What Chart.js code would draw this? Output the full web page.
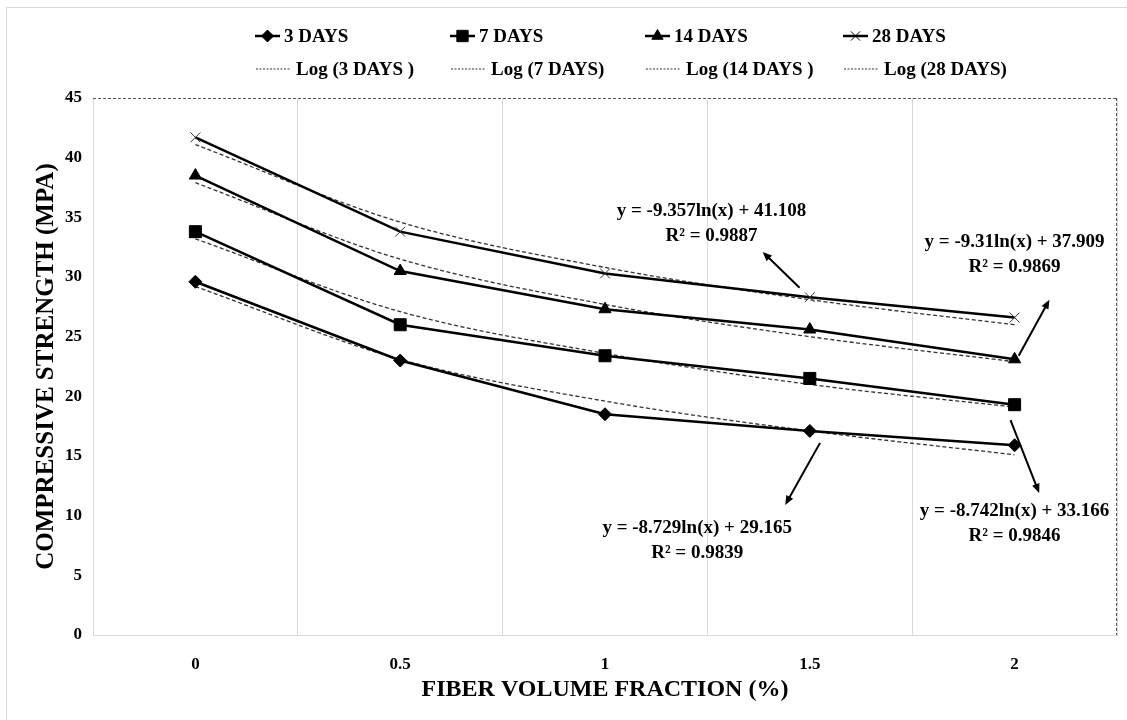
<!DOCTYPE html>
<html lang="en">
<head>
    <meta charset="UTF-8">
    <title>Compressive Strength vs Fiber Volume Fraction</title>
    <script src="https://cdn.jsdelivr.net/npm/chart.js"></script>
    <style>
        body {
            margin: 0;
            background-color: #ffffff;
        }

        .chart-box {
            width: 1127px;
            height: 720px;
            position: relative;
        }
    </style>
</head>
<body>
<div class="chart-box">
    <canvas id="strengthChart"></canvas>
</div>

<script>
    // fiber volume fraction (%)
    const fractions = ['0', '0.5', '1', '1.5', '2'];

    // measured compressive strength (MPa)
    const days3 = [29.6, 23.0, 18.5, 17.1, 15.9];
    const days7 = [33.8, 26.0, 23.4, 21.5, 19.3];
    const days14 = [38.5, 30.5, 27.3, 25.6, 23.1];
    const days28 = [41.7, 33.8, 30.3, 28.3, 26.6];

    // log trendlines
    const log3 = [29.2, 23.1, 19.6, 17.1, 15.1];
    const log7 = [33.2, 27.1, 23.6, 21.0, 19.1];
    const log14 = [37.9, 31.5, 27.7, 25.0, 22.9];
    const log28 = [41.1, 34.6, 30.8, 28.1, 26.0];

    const yTicks = [0, 5, 10, 15, 20, 25, 30, 35, 40, 45];

    const seriesNames = ['3 DAYS', '7 DAYS', '14 DAYS', '28 DAYS'];
    const trendNames = ['Log (3 DAYS )', 'Log (7 DAYS)', 'Log (14 DAYS )', 'Log (28 DAYS)'];

    const equations = [
        ['y = -9.357ln(x) + 41.108', 'R\u00B2 = 0.9887'],
        ['y = -9.31ln(x) + 37.909', 'R\u00B2 = 0.9869'],
        ['y = -8.729ln(x) + 29.165', 'R\u00B2 = 0.9839'],
        ['y = -8.742ln(x) + 33.166', 'R\u00B2 = 0.9846']
    ];

    // where each equation sits (category index, MPa) and its arrow from -> to
    const notes = [
        {at: [2.52, 35.5], from: [2.95, 29.1], to: [2.77, 32.1]},
        {at: [4.0, 32.9], from: [4.02, 23.4], to: [4.17, 28.1]},
        {at: [2.45, 9.0], from: [3.05, 16.1], to: [2.88, 10.9]},
        {at: [4.0, 10.4], from: [3.98, 18.0], to: [4.12, 11.9]}
    ];

    const serif = "'Liberation Serif', 'Times New Roman', serif";
    const markers = ['rectRot', 'rect', 'triangle', 'crossRot'];
    const markerSize = [6.5, 8.5, 7, 7];

    function dataLine(label, values, i) {
        return {
            label: label,
            data: values,
            borderColor: '#000',
            backgroundColor: '#000',
            borderWidth: 2.5,
            pointStyle: markers[i],
            pointRadius: markerSize[i],
            pointBorderWidth: 1,
            pointBackgroundColor: '#000',
            pointBorderColor: i === 3 ? '#333' : '#000',
            tension: 0,
            order: 1
        };
    }

    function trendLine(label, values) {
        return {
            label: label,
            data: values,
            borderColor: '#333',
            borderWidth: 1.3,
            borderDash: [4, 2.5],
            pointRadius: 0,
            cubicInterpolationMode: 'monotone',
            order: 2
        };
    }

    const allSeries = [days3, days7, days14, days28];
    const allTrends = [log3, log7, log14, log28];

    const datasets = [];
    allSeries.forEach((s, i) => datasets.push(dataLine(seriesNames[i], s, i)));
    allTrends.forEach((t, i) => datasets.push(trendLine(trendNames[i], t)));

    function drawArrow(ctx, x1, y1, x2, y2) {
        const ang = Math.atan2(y2 - y1, x2 - x1);
        const head = 10;
        ctx.save();
        ctx.strokeStyle = '#000';
        ctx.fillStyle = '#000';
        ctx.lineWidth = 2;
        ctx.beginPath();
        ctx.moveTo(x1, y1);
        ctx.lineTo(x2 - Math.cos(ang) * head * 0.8, y2 - Math.sin(ang) * head * 0.8);
        ctx.stroke();
        ctx.beginPath();
        ctx.moveTo(x2, y2);
        ctx.lineTo(x2 - head * Math.cos(ang - 0.4), y2 - head * Math.sin(ang - 0.4));
        ctx.lineTo(x2 - head * Math.cos(ang + 0.4), y2 - head * Math.sin(ang + 0.4));
        ctx.closePath();
        ctx.fill();
        ctx.restore();
    }

    // legend grid, dashed frame, equations and arrows
    const extras = {
        id: 'extras',
        afterDraw(chart) {
            const ctx = chart.ctx;
            const area = chart.chartArea;
            const xs = chart.scales.x;
            const ys = chart.scales.y;

            ctx.save();
            // faint outer frame
            ctx.strokeStyle = '#d9d9d9';
            ctx.lineWidth = 1;
            ctx.beginPath();
            ctx.moveTo(6.5, chart.height);
            ctx.lineTo(6.5, 7.5);
            ctx.lineTo(chart.width, 7.5);
            ctx.stroke();

            // dashed frame top and right
            ctx.strokeStyle = '#555';
            ctx.setLineDash([3, 2]);
            ctx.beginPath();
            ctx.moveTo(area.left, area.top + 0.5);
            ctx.lineTo(area.right, area.top + 0.5);
            ctx.moveTo(area.right - 0.5, area.top);
            ctx.lineTo(area.right - 0.5, area.bottom);
            ctx.stroke();
            ctx.setLineDash([]);

            // legend
            const cols = [255, 450, 645, 843];
            ctx.font = 'bold 19px ' + serif;
            ctx.fillStyle = '#000';
            ctx.textBaseline = 'middle';
            ctx.textAlign = 'left';
            cols.forEach((cx, i) => {
                const y1 = 36;
                ctx.strokeStyle = '#000';
                ctx.lineWidth = 2.5;
                ctx.beginPath();
                ctx.moveTo(cx, y1);
                ctx.lineTo(cx + 25, y1);
                ctx.stroke();
                ctx.lineWidth = 1;
                Chart.helpers.drawPoint(ctx, {
                    pointStyle: markers[i],
                    radius: markerSize[i] - 0.5,
                    borderWidth: 1
                }, cx + 12.5, y1);
                ctx.fillText(seriesNames[i], cx + 29, y1 + 1);

                const y2 = 69;
                ctx.strokeStyle = '#333';
                ctx.lineWidth = 1.2;
                ctx.setLineDash([2, 1.5]);
                ctx.beginPath();
                ctx.moveTo(cx + 1, y2);
                ctx.lineTo(cx + 35, y2);
                ctx.stroke();
                ctx.setLineDash([]);
                ctx.fillText(trendNames[i], cx + 41, y2 + 1);
            });

            // equations
            ctx.textAlign = 'center';
            notes.forEach((n, i) => {
                const px = xs.getPixelForValue(n.at[0]);
                const py = ys.getPixelForValue(n.at[1]);
                ctx.fillText(equations[i][0], px, py);
                ctx.fillText(equations[i][1], px, py + 25);
                drawArrow(ctx,
                    xs.getPixelForValue(n.from[0]), ys.getPixelForValue(n.from[1]),
                    xs.getPixelForValue(n.to[0]), ys.getPixelForValue(n.to[1]));
            });
            ctx.restore();
        }
    };

    new Chart(document.getElementById('strengthChart').getContext('2d'), {
        type: 'line',
        data: {
            labels: fractions,
            datasets: datasets
        },
        options: {
            responsive: true,
            maintainAspectRatio: false,
            animation: false,
            layout: {
                padding: {top: 98, right: 10, left: 0, bottom: 0}
            },
            plugins: {
                legend: {display: false},
                tooltip: {enabled: false}
            },
            scales: {
                x: {
                    offset: true,
                    grid: {
                        offset: true,
                        drawTicks: false,
                        color: ctx => ctx.index === fractions.length ? 'rgba(0,0,0,0)' : '#d9d9d9'
                    },
                    border: {color: '#d9d9d9', width: 1},
                    ticks: {
                        padding: 19,
                        color: '#000',
                        font: {family: serif, size: 17, weight: 'bold'}
                    },
                    title: {
                        display: true,
                        text: 'FIBER VOLUME FRACTION (%)',
                        color: '#000',
                        font: {family: serif, size: 24, weight: 'bold'},
                        padding: {top: 4, bottom: 16}
                    },
                    afterFit(scale) {
                        scale.height = 85;
                    }
                },
                y: {
                    min: 0,
                    max: 45,
                    afterBuildTicks(scale) {
                        scale.ticks = yTicks.map(v => ({value: v}));
                    },
                    grid: {display: false, drawTicks: false},
                    border: {color: '#d9d9d9', width: 1},
                    ticks: {
                        padding: 11,
                        color: '#000',
                        font: {family: serif, size: 17, weight: 'bold'}
                    },
                    title: {
                        display: true,
                        text: 'COMPRESSIVE STRENGTH (MPA)',
                        color: '#000',
                        font: {family: serif, size: 25, weight: 'bold'},
                        padding: {top: 32, bottom: 0}
                    },
                    afterFit(scale) {
                        scale.width = 93;
                    }
                }
            }
        },
        plugins: [extras]
    });
</script>
</body>
</html>
